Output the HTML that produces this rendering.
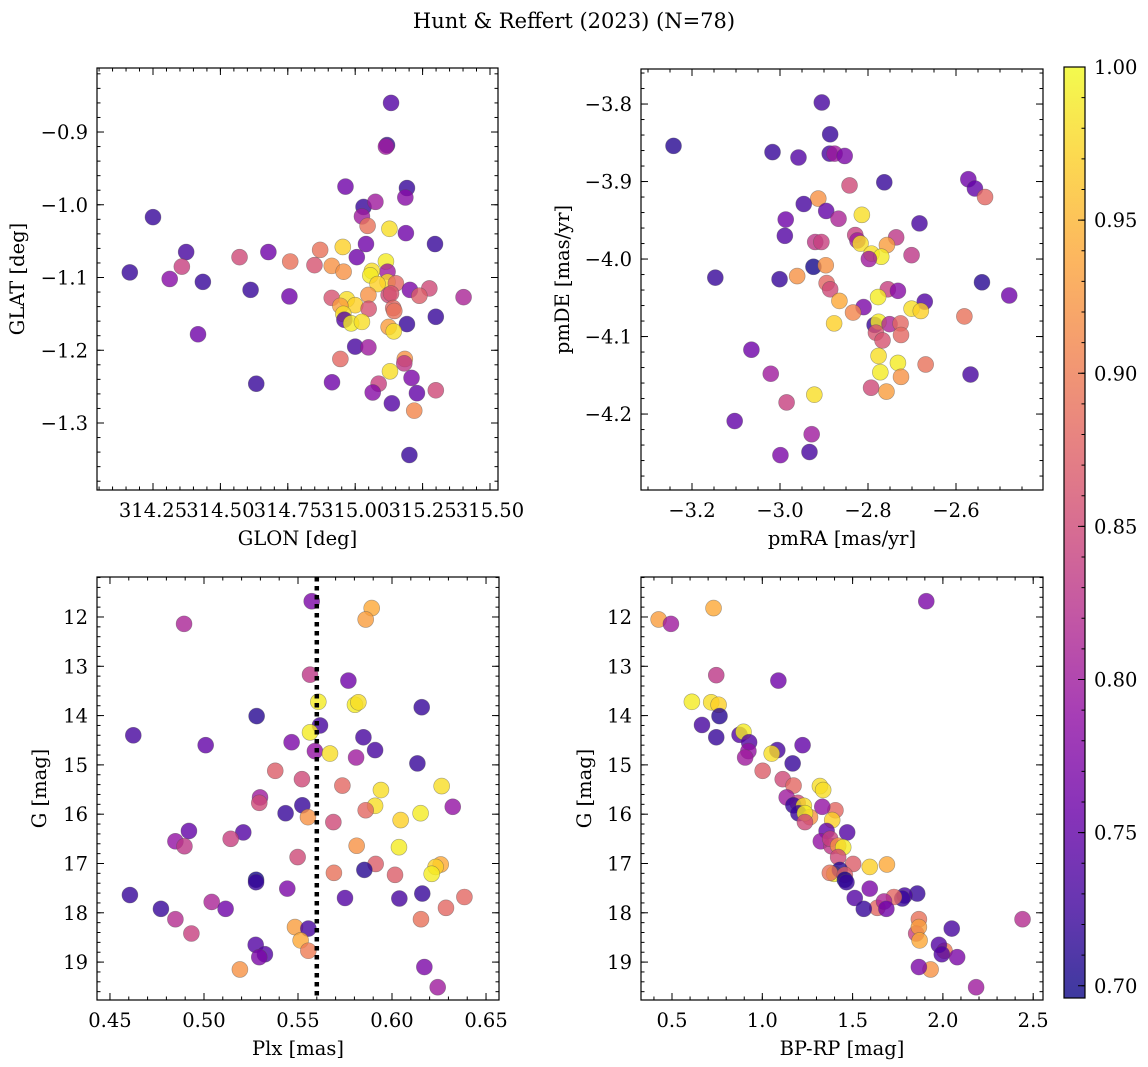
<!DOCTYPE html>
<html><head><meta charset="utf-8">
<style>
html,body{margin:0;padding:0;background:#fff;}
svg{display:block;font-family:"DejaVu Serif","Liberation Serif",serif;}
</style></head>
<body>
<svg id="fig" width="1148" height="1067" viewBox="0 0 1148 1067" xmlns="http://www.w3.org/2000/svg">
<defs>
<linearGradient id="cmap" x1="0" y1="1" x2="0" y2="0">
<stop offset="0" stop-color="#0d0887"/><stop offset="0.1" stop-color="#41049d"/><stop offset="0.2" stop-color="#6a00a8"/><stop offset="0.3" stop-color="#8f0da4"/><stop offset="0.4" stop-color="#b12a90"/><stop offset="0.5" stop-color="#cc4778"/><stop offset="0.6" stop-color="#e16462"/><stop offset="0.7" stop-color="#f2844b"/><stop offset="0.8" stop-color="#fca636"/><stop offset="0.9" stop-color="#fcce25"/><stop offset="1" stop-color="#f0f921"/>
</linearGradient>
</defs>
<text x="574" y="28" text-anchor="middle" font-size="21">Hunt &amp; Reffert (2023) (N=78)</text>
</svg>
<script>
// ---- Panel 1: GLON vs GLAT ----
const p1Glon=[315.133,315.118,315.114,314.964,315.192,315.186,315.031,315.075,315.025,315.046,315.127,315.188,314.25,315.296,315.04,314.954,314.87,314.678,314.373,315.006,314.571,314.759,315.114,314.357,314.849,314.913,314.957,315.12,315.062,314.164,315.056,314.312,314.435,315.12,315.151,315.083,314.612,315.203,315.275,315.238,314.756,315.124,315.133,315.402,314.913,315.049,314.969,315.0,314.945,315.05,315.141,315.145,314.956,315.299,314.96,314.985,315.025,315.192,315.124,315.143,314.417,315.0,315.049,314.945,315.184,315.182,315.129,315.209,314.633,314.914,315.087,315.065,315.229,315.299,315.136,315.219,315.201];
const p1Glat=[-0.860,-0.918,-0.920,-0.975,-0.977,-0.990,-1.003,-0.996,-1.016,-1.029,-1.033,-1.039,-1.017,-1.054,-1.054,-1.058,-1.062,-1.065,-1.065,-1.072,-1.072,-1.078,-1.078,-1.085,-1.083,-1.084,-1.092,-1.092,-1.091,-1.093,-1.097,-1.102,-1.106,-1.106,-1.108,-1.109,-1.117,-1.117,-1.115,-1.125,-1.126,-1.124,-1.122,-1.127,-1.128,-1.124,-1.130,-1.138,-1.139,-1.143,-1.142,-1.146,-1.150,-1.154,-1.158,-1.163,-1.161,-1.164,-1.168,-1.174,-1.178,-1.195,-1.196,-1.212,-1.212,-1.218,-1.229,-1.238,-1.246,-1.244,-1.246,-1.258,-1.259,-1.255,-1.273,-1.283,-1.344];
const p1Prob=[0.74,0.72,0.80,0.76,0.72,0.78,0.72,0.80,0.80,0.89,0.98,0.76,0.72,0.72,0.76,0.97,0.89,0.76,0.73,0.76,0.85,0.89,0.99,0.84,0.86,0.92,0.92,0.80,0.98,0.72,0.99,0.78,0.72,0.98,0.88,0.97,0.72,0.77,0.85,0.87,0.76,0.85,0.86,0.81,0.86,0.92,0.98,0.97,0.93,0.86,0.88,0.89,0.98,0.72,0.74,0.99,0.98,0.72,0.93,0.98,0.76,0.73,0.80,0.88,0.92,0.83,0.98,0.77,0.72,0.76,0.84,0.78,0.75,0.85,0.74,0.91,0.72];
const p1XTicks=[314.25,314.50,314.75,315.00,315.25,315.50];
const p1YTicks=[-0.9,-1.0,-1.1,-1.2,-1.3];

// ---- Panel 2: pmRA vs pmDE ----
const p2PmRA=[-2.905,-3.242,-2.886,-3.017,-2.958,-2.887,-2.876,-2.853,-2.763,-2.842,-2.572,-2.557,-2.534,-2.913,-2.946,-2.895,-2.867,-2.987,-2.814,-2.683,-2.989,-2.829,-2.824,-2.817,-2.736,-2.92,-2.906,-2.757,-2.792,-2.77,-2.798,-2.701,-2.924,-2.896,-2.961,-3.147,-3.001,-2.894,-2.886,-2.541,-2.755,-2.732,-2.479,-2.865,-2.777,-2.671,-2.81,-2.834,-2.701,-2.68,-2.581,-2.877,-2.785,-2.776,-2.751,-2.726,-2.782,-2.725,-2.767,-3.065,-2.776,-2.732,-2.669,-3.021,-2.772,-2.725,-2.567,-2.793,-2.758,-2.922,-2.985,-3.103,-2.928,-2.933,-2.999];
const p2PmDE=[-3.798,-3.854,-3.839,-3.862,-3.869,-3.864,-3.864,-3.867,-3.901,-3.905,-3.897,-3.909,-3.920,-3.922,-3.929,-3.938,-3.948,-3.949,-3.943,-3.954,-3.970,-3.969,-3.976,-3.980,-3.972,-3.978,-3.978,-3.982,-3.993,-3.997,-4.000,-3.995,-4.010,-4.008,-4.022,-4.024,-4.026,-4.031,-4.039,-4.030,-4.039,-4.041,-4.047,-4.054,-4.049,-4.055,-4.062,-4.069,-4.064,-4.067,-4.074,-4.083,-4.085,-4.081,-4.084,-4.083,-4.095,-4.098,-4.105,-4.117,-4.125,-4.134,-4.136,-4.148,-4.146,-4.152,-4.149,-4.166,-4.171,-4.175,-4.185,-4.209,-4.226,-4.249,-4.253];
const p2Prob=[0.73,0.71,0.72,0.72,0.74,0.73,0.80,0.77,0.72,0.85,0.76,0.75,0.88,0.92,0.73,0.75,0.81,0.76,0.98,0.73,0.74,0.84,0.80,0.98,0.83,0.83,0.84,0.93,0.98,0.99,0.80,0.83,0.70,0.92,0.92,0.72,0.72,0.88,0.85,0.71,0.84,0.78,0.76,0.94,0.99,0.74,0.77,0.91,0.98,0.97,0.89,0.97,0.72,0.99,0.81,0.88,0.86,0.88,0.86,0.76,0.98,0.99,0.89,0.80,0.99,0.92,0.73,0.85,0.93,0.98,0.84,0.75,0.80,0.73,0.77];
const p2XTicks=[-3.2,-3.0,-2.8,-2.6];
const p2YTicks=[-3.8,-3.9,-4.0,-4.1,-4.2];

// ---- Panel 3: Plx vs G ----
const p3Plx=[0.5573,0.5892,0.586,0.4894,0.5564,0.5768,0.5608,0.5803,0.5821,0.6158,0.528,0.5617,0.5564,0.4624,0.5848,0.5009,0.5466,0.591,0.559,0.567,0.5809,0.6135,0.5379,0.5521,0.5736,0.6264,0.5941,0.5298,0.5294,0.5523,0.591,0.586,0.6323,0.5434,0.5553,0.6152,0.6046,0.5688,0.492,0.5209,0.4848,0.4896,0.5142,0.5812,0.6037,0.5498,0.5913,0.6259,0.6232,0.6211,0.5853,0.5691,0.6016,0.5277,0.5277,0.5443,0.4606,0.575,0.6039,0.6161,0.6385,0.6287,0.4771,0.5041,0.5115,0.4848,0.6154,0.4933,0.5484,0.5555,0.5514,0.5555,0.5275,0.5324,0.5294,0.5191,0.6172,0.6243];
const p3G=[11.68,11.82,12.05,12.14,13.17,13.29,13.72,13.78,13.73,13.83,14.01,14.20,14.34,14.40,14.44,14.60,14.54,14.70,14.72,14.77,14.85,14.97,15.12,15.29,15.42,15.43,15.51,15.66,15.77,15.82,15.83,15.92,15.85,15.98,16.06,15.98,16.12,16.16,16.34,16.37,16.55,16.65,16.50,16.64,16.67,16.87,17.01,17.02,17.07,17.21,17.13,17.19,17.23,17.33,17.38,17.51,17.64,17.70,17.71,17.61,17.68,17.90,17.92,17.78,17.92,18.13,18.13,18.42,18.29,18.32,18.56,18.77,18.65,18.84,18.90,19.15,19.10,19.51];
const p3Prob=[0.77,0.94,0.93,0.81,0.83,0.76,0.99,0.99,0.98,0.72,0.71,0.73,0.99,0.73,0.73,0.75,0.77,0.73,0.79,0.98,0.80,0.72,0.87,0.85,0.88,0.98,0.98,0.80,0.85,0.72,0.98,0.88,0.79,0.72,0.92,0.99,0.97,0.85,0.75,0.74,0.79,0.83,0.84,0.92,0.99,0.85,0.87,0.94,0.97,0.99,0.71,0.89,0.87,0.70,0.72,0.77,0.72,0.74,0.73,0.72,0.88,0.88,0.72,0.81,0.76,0.82,0.89,0.84,0.93,0.73,0.94,0.90,0.74,0.74,0.77,0.92,0.77,0.80];
const p3XTicks=[0.45,0.50,0.55,0.60,0.65];
const p3YTicks=[12,13,14,15,16,17,18,19];
const p3RefPlx=[0.560];

// ---- Panel 4: BP-RP vs G ----
const p4BpRp=[0.426,0.494,0.73,1.908,0.745,1.089,0.61,0.717,0.758,0.763,0.666,0.745,0.874,0.896,0.927,0.923,0.905,1.223,1.083,1.052,1.168,1.002,1.113,1.173,1.319,1.337,1.135,1.196,1.172,1.23,1.405,1.332,1.2,1.264,1.236,1.387,1.236,1.356,1.47,1.324,1.383,1.376,1.42,1.448,1.42,1.503,1.69,1.595,1.398,1.429,1.374,1.457,1.457,1.466,1.595,1.858,1.512,1.788,1.775,1.729,1.637,1.562,1.674,1.687,2.441,1.867,1.852,1.867,2.049,1.871,2.009,1.978,1.994,2.079,1.932,1.867,2.184];
const p4G=[12.05,12.14,11.82,11.68,13.18,13.29,13.72,13.73,13.78,14.01,14.19,14.44,14.39,14.33,14.54,14.72,14.85,14.60,14.70,14.77,14.97,15.12,15.29,15.42,15.43,15.51,15.66,15.77,15.82,15.83,15.92,15.85,15.98,16.06,15.98,16.12,16.16,16.34,16.37,16.55,16.65,16.50,16.64,16.67,16.87,17.01,17.02,17.07,17.21,17.13,17.19,17.23,17.33,17.38,17.51,17.61,17.70,17.65,17.71,17.68,17.90,17.92,17.77,17.92,18.13,18.13,18.42,18.29,18.32,18.56,18.77,18.65,18.84,18.90,19.15,19.10,19.51];
const p4Prob=[0.93,0.80,0.94,0.77,0.83,0.76,0.99,0.98,0.97,0.71,0.73,0.72,0.74,0.99,0.74,0.79,0.80,0.75,0.73,0.98,0.72,0.87,0.85,0.88,0.98,0.98,0.80,0.85,0.72,0.98,0.88,0.79,0.72,0.92,0.99,0.97,0.85,0.75,0.74,0.79,0.83,0.84,0.92,0.99,0.85,0.87,0.94,0.97,0.99,0.71,0.89,0.87,0.70,0.72,0.77,0.72,0.74,0.73,0.72,0.88,0.88,0.72,0.81,0.76,0.82,0.89,0.84,0.93,0.73,0.94,0.90,0.74,0.74,0.77,0.92,0.77,0.80];
const p4XTicks=[0.5,1.0,1.5,2.0,2.5];
const p4YTicks=[12,13,14,15,16,17,18,19];

// ---- Colorbar ----
const cbTicks=[0.70,0.75,0.80,0.85,0.90,0.95,1.00];
const cbMin=0.696, cbMax=1.0;

const NS="http://www.w3.org/2000/svg";
const svg=document.getElementById('fig');
function mk(tag,attrs,parent){const e=document.createElementNS(NS,tag);for(const k in attrs)e.setAttribute(k,attrs[k]);(parent||svg).appendChild(e);return e;}
const stops=[[13,8,135],[65,4,157],[106,0,168],[143,13,164],[177,42,144],[204,71,120],[225,100,98],[242,132,75],[252,166,54],[252,206,37],[240,249,33]];
function plasma(v){let t=(v-cbMin)/(cbMax-cbMin);t=Math.max(0,Math.min(1,t));const f=t*10;const i=Math.min(9,Math.floor(f));const r=f-i;const a=stops[i],b=stops[i+1];return 'rgb('+[0,1,2].map(k=>Math.round(a[k]+(b[k]-a[k])*r)).join(',')+')';}
function lin(d0,d1,r0,r1){return v=>r0+(v-d0)/(d1-d0)*(r1-r0);}
function range(a,b,s){const o=[];const n=Math.round((b-a)/s);for(let i=0;i<=n;i++)o.push(a+i*s);return o;}
const FS=19.5;

function panel(cfg){
  const g=mk('g',{});
  
  
  const {L,R,T,B}=cfg;
  const sx=lin(cfg.xd[0],cfg.xd[1],L,R), sy=lin(cfg.yd[0],cfg.yd[1],B,T);
  const tg=mk('g',{stroke:'#000','stroke-width':1},g);
  
  
  const xmn=Math.min(...cfg.xd),xmx=Math.max(...cfg.xd),ymn=Math.min(...cfg.yd),ymx=Math.max(...cfg.yd);
  range(Math.ceil(xmn/cfg.xmin-1e-9)*cfg.xmin,xmx,cfg.xmin).forEach(v=>{if(v<xmn||v>xmx)return;const x=sx(v);mk('line',{x1:x,x2:x,y1:B,y2:B-3.5},tg);mk('line',{x1:x,x2:x,y1:T,y2:T+3.5},tg);});
  range(Math.ceil(ymn/cfg.ymin-1e-9)*cfg.ymin,ymx,cfg.ymin).forEach(v=>{if(v<ymn||v>ymx)return;const y=sy(v);mk('line',{x1:L,x2:L+3.5,y1:y,y2:y},tg);mk('line',{x1:R,x2:R-3.5,y1:y,y2:y},tg);});
  cfg.xt.forEach(v=>{const x=sx(v);mk('line',{x1:x,x2:x,y1:B,y2:B-7},tg);mk('line',{x1:x,x2:x,y1:T,y2:T+7},tg);
    const t=mk('text',{x:x,y:B+27,'text-anchor':'middle','font-size':FS},g);t.textContent=cfg.xf(v);
    
    });
  cfg.yt.forEach(v=>{const y=sy(v);mk('line',{x1:L,x2:L+7,y1:y,y2:y},tg);mk('line',{x1:R,x2:R-7,y1:y,y2:y},tg);
    const t=mk('text',{x:L-9,y:y+7,'text-anchor':'end','font-size':FS},g);t.textContent=cfg.yf(v);
    
    });
  const pg=mk('g',{},g);
  
  
  for(let i=0;i<cfg.x.length;i++){
    const c=mk('circle',{cx:sx(cfg.x[i]),cy:sy(cfg.y[i]),r:8,fill:plasma(cfg.c[i]),'fill-opacity':0.8,stroke:'rgba(80,80,80,0.5)','stroke-width':0.6},pg);
    
    
  }
  if(cfg.vline){cfg.vline.forEach(v=>{const l=mk('line',{x1:sx(v),x2:sx(v),y1:T,y2:B,stroke:'#000','stroke-width':4.5,'stroke-dasharray':'4.5 4.5'},g);
    
    });}
  const fr=mk('rect',{x:L,y:T,width:R-L,height:B-T,fill:'none',stroke:'#000','stroke-width':1.2},g);
  
  
  const xl=mk('text',{x:(L+R)/2,y:B+55,'text-anchor':'middle','font-size':FS},g);xl.textContent=cfg.xlab;
  
  
  const yl=mk('text',{x:cfg.ylx,y:(T+B)/2,'text-anchor':'middle','font-size':FS,transform:'rotate(-90 '+cfg.ylx+' '+(T+B)/2+')'},g);yl.textContent=cfg.ylab;
  
  
}
panel({name:'glon-glat-panel',L:97,R:498,T:68,B:490,xd:[314.0423,315.5297],yd:[-1.3921,-0.812],x:p1Glon,y:p1Glat,c:p1Prob,xt:p1XTicks,yt:p1YTicks,xmin:0.05,ymin:0.02,xf:v=>v.toFixed(2),yf:v=>'\u2212'+Math.abs(v).toFixed(1),xlab:'GLON [deg]',ylab:'GLAT [deg]',ylx:24});
panel({name:'pm-panel',L:641,R:1043,T:69,B:490,xd:[-3.3159,-2.4023],yd:[-4.298,-3.7548],x:p2PmRA,y:p2PmDE,c:p2Prob,xt:p2XTicks,yt:p2YTicks,xmin:0.05,ymin:0.02,xf:v=>'\u2212'+Math.abs(v).toFixed(1),yf:v=>'\u2212'+Math.abs(v).toFixed(1),xlab:'pmRA [mas/yr]',ylab:'pmDE [mas/yr]',ylx:569});
panel({name:'plx-g-panel',L:97,R:499,T:577,B:1000,xd:[0.4431,0.6569],yd:[19.769,11.189],x:p3Plx,y:p3G,c:p3Prob,xt:p3XTicks,yt:p3YTicks,xmin:0.01,ymin:0.2,xf:v=>v.toFixed(2),yf:v=>String(v),xlab:'Plx [mas]',ylab:'G [mag]',ylx:46,vline:p3RefPlx});
panel({name:'cmd-panel',L:641,R:1043,T:577,B:1000,xd:[0.3283,2.5543],yd:[19.769,11.189],x:p4BpRp,y:p4G,c:p4Prob,xt:p4XTicks,yt:p4YTicks,xmin:0.1,ymin:0.2,xf:v=>v.toFixed(1),yf:v=>String(v),xlab:'BP-RP [mag]',ylab:'G [mag]',ylx:591});

(function(){
  const L=1064,R=1085,T=67,B=998;
  const g=mk('g',{});
  
  
  const sy=lin(cbMin,cbMax,B,T);
  const r=mk('rect',{x:L,y:T,width:R-L,height:B-T,fill:'url(#cmap)','fill-opacity':0.8,stroke:'#000','stroke-width':1.2},g);
  
  
  range(0.70,1.0,0.01).forEach(v=>{const y=sy(v);mk('line',{x1:R,x2:R-3.5,y1:y,y2:y,stroke:'#000','stroke-width':1},g);});
  cbTicks.forEach(v=>{const y=sy(v);mk('line',{x1:R,x2:R-7,y1:y,y2:y,stroke:'#000','stroke-width':1},g);
    const t=mk('text',{x:R+9,y:y+7,'font-size':FS},g);t.textContent=v.toFixed(2);
    
    });
})();
</script>
</body></html>
